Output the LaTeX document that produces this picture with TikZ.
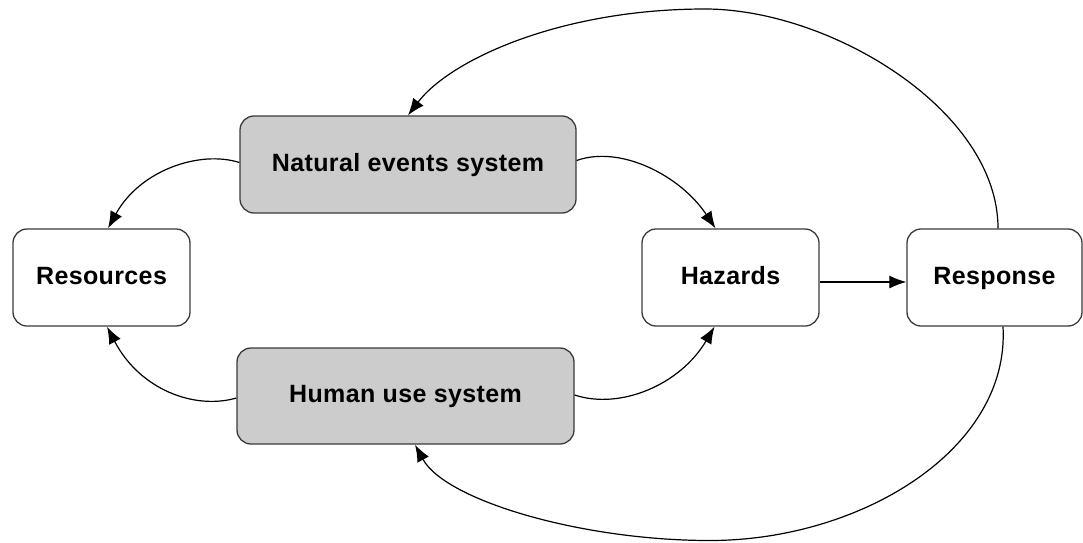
\documentclass[tikz,border=0pt]{standalone}
\usepackage{fontspec}
\setmainfont{Liberation Sans}
\newfontfamily\boxfont[LetterSpace=1.5]{Liberation Sans}
\usetikzlibrary{arrows.meta}
\definecolor{boxgray}{HTML}{CCCCCC}
\definecolor{edgegray}{HTML}{3A3A3A}
\tikzset{
  box/.style={draw=edgegray, line width=1.3pt, rounded corners=14pt, fill=white,
    inner sep=0pt, minimum height=97pt, text height=18pt, text depth=5pt,
    font=\boxfont\fontsize{25}{29}\selectfont\bfseries},
  sysbox/.style={box, fill=boxgray},
  conn/.style={draw=black, line width=1.2pt, -{Latex[length=17pt,width=13pt]}},
  plain/.style={draw=black, line width=1.2pt}
}
\begin{document}
\begin{tikzpicture}[x=1pt,y=-1pt]
\useasboundingbox (0,0) rectangle (1083,542);
\node[box, minimum width=177pt] (res) at (101.5,277.5) {Resources};
\node[box, minimum width=177pt] (haz) at (730.5,277.5) {Hazards};
\node[box, minimum width=175pt] (resp) at (994.5,277.5) {Response};
\node[sysbox, minimum width=336pt] (nat) at (408,164.5) {Natural events system};
\node[sysbox, minimum width=337pt, minimum height=96pt] (hum) at (405.5,396) {Human use system};
\coordinate (topapex) at (705,9);
\coordinate (botapex) at (710,540.5);

\draw[conn] ([yshift=2pt]nat.west) .. controls (200,150) and (140,170) .. ([xshift=6.5pt]res.north);
\draw[conn] ([yshift=4pt]nat.east) .. controls (620,145) and (680,175) .. ([xshift=-15pt]haz.north);
\draw[conn] ([yshift=-2pt]hum.west) .. controls (195,410) and (140,390) .. ([xshift=5.5pt]res.south);
\draw[conn] ([yshift=1pt]hum.east) .. controls (620,410) and (680,385) .. ([xshift=-16pt]haz.south);
\draw[conn] ([yshift=-4.5pt]haz.east) -- ([yshift=-4.5pt]resp.west);
\draw[plain] ([xshift=3.5pt]resp.north) .. controls (998,110) and (830,9) .. (topapex);
\draw[conn] (topapex) .. controls (560,9) and (450,60) .. (nat.north);
\draw[plain] ([xshift=8.5pt]resp.south) .. controls (1010,450) and (860,540.5) .. (botapex);
\draw[conn] (botapex) .. controls (580,540.5) and (445,500) .. ([xshift=9.5pt]hum.south);
\end{tikzpicture}
\end{document}
